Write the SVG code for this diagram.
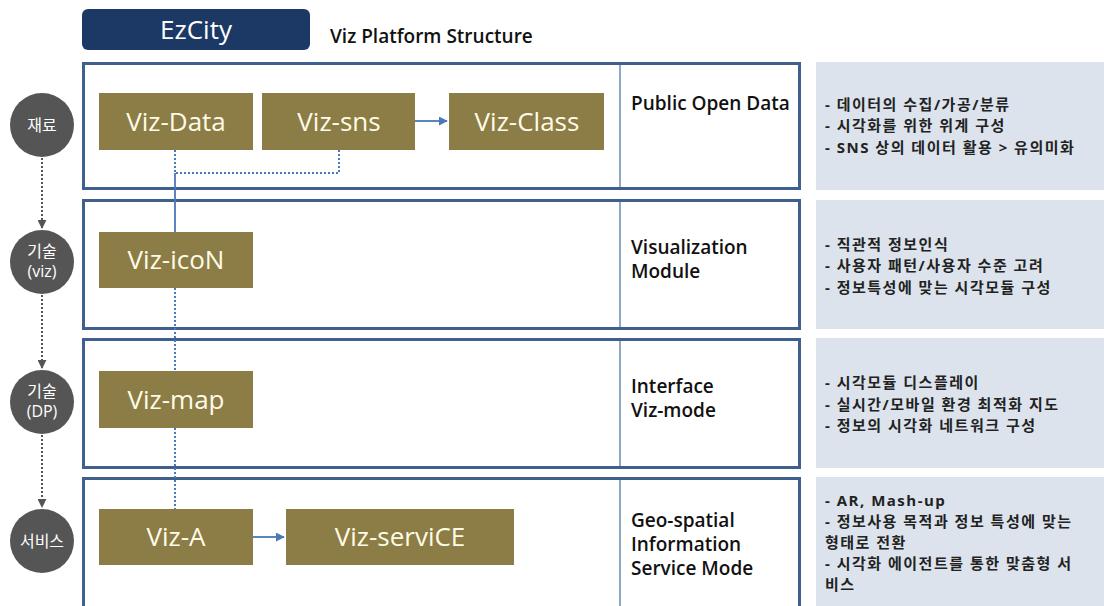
<svg xmlns="http://www.w3.org/2000/svg" width="1104" height="606" viewBox="0 0 1104 606">
  <style>
    .panel { fill: #ffffff; stroke: #3f5f8c; stroke-width: 3; }
    .divider { stroke: #6a8ab5; stroke-width: 1.5; }
    .note { fill: #dce3ec; }
    .mod { fill: #8b7d45; }
    .modtxt { font-family: "Open Sans", "Liberation Sans", sans-serif; font-size: 26px; fill: #fffbe8; text-anchor: middle; }
    .title { font-family: "Open Sans", "Liberation Sans", sans-serif; font-size: 19px; font-weight: 600; fill: #111111; }
    .bullet { font-family: "Open Sans", "Noto Sans CJK KR", sans-serif; font-size: 15px; letter-spacing: 1.5px; font-weight: 700; fill: #222222; }
    .stage { fill: #555555; }
    .stagetxt { font-family: "Open Sans", "Noto Sans CJK KR", sans-serif; font-size: 16px; fill: #ffffff; text-anchor: middle; }
    .link { fill: none; stroke: #4a78b8; stroke-width: 1.8; }
    .dot { fill: none; stroke: #4a78b8; stroke-width: 2; stroke-dasharray: 2 2; }
    .flow { fill: none; stroke: #555555; stroke-width: 2; stroke-dasharray: 2 2; }
  </style>
  <defs>
    <marker id="arrBlue" viewBox="0 0 10 10" refX="9" refY="5" markerWidth="5" markerHeight="5" orient="auto">
      <path d="M0,0 L10,5 L0,10 z" fill="#4a78b8"/>
    </marker>
    <marker id="arrGray" viewBox="0 0 10 10" refX="9" refY="5" markerWidth="4.5" markerHeight="4.5" orient="auto">
      <path d="M0,0 L10,5 L0,10 z" fill="#555555"/>
    </marker>
  </defs>

  <rect width="1104" height="606" fill="#ffffff"/>

  <!-- header -->
  <g id="header">
    <rect x="82" y="9" width="228" height="41" rx="6" fill="#1c3966"/>
    <text x="196" y="39" font-family="Open Sans, Liberation Sans, sans-serif" font-size="26" fill="#ffffff" text-anchor="middle">EzCity</text>
    <text x="330" y="43" font-family="Open Sans, Liberation Sans, sans-serif" font-size="19" font-weight="600" fill="#111111">Viz Platform Structure</text>
  </g>

  <!-- layer panels -->
  <g id="layer-data">
    <rect class="panel" x="83.5" y="63.5" width="716" height="125"/>
    <line class="divider" x1="620" y1="65" x2="620" y2="187"/>
    <text class="title" x="631" y="110">Public Open Data</text>
  </g>
  <g id="layer-viz">
    <rect class="panel" x="83.5" y="200.5" width="716" height="128"/>
    <line class="divider" x1="620" y1="202" x2="620" y2="327"/>
    <text class="title" x="631" y="254">Visualization</text>
    <text class="title" x="631" y="278">Module</text>
  </g>
  <g id="layer-dp">
    <rect class="panel" x="83.5" y="339.5" width="716" height="128"/>
    <line class="divider" x1="620" y1="341" x2="620" y2="466"/>
    <text class="title" x="631" y="393">Interface</text>
    <text class="title" x="631" y="417">Viz-mode</text>
  </g>
  <g id="layer-service">
    <rect class="panel" x="83.5" y="478.5" width="716" height="140"/>
    <line class="divider" x1="620" y1="480" x2="620" y2="606"/>
    <text class="title" x="631" y="527">Geo-spatial</text>
    <text class="title" x="631" y="551">Information</text>
    <text class="title" x="631" y="575">Service Mode</text>
  </g>

  <!-- notes -->
  <g id="note-data">
    <rect class="note" x="816" y="62" width="288" height="128"/>
    <text class="bullet" x="825" y="110">- 데이터의 수집/가공/분류</text>
    <text class="bullet" x="825" y="131">- 시각화를 위한 위계 구성</text>
    <text class="bullet" x="825" y="153">- SNS 상의 데이터 활용 &gt; 유의미화</text>
  </g>
  <g id="note-viz">
    <rect class="note" x="816" y="200" width="288" height="129"/>
    <text class="bullet" x="825" y="250">- 직관적 정보인식</text>
    <text class="bullet" x="825" y="271">- 사용자 패턴/사용자 수준 고려</text>
    <text class="bullet" x="825" y="293">- 정보특성에 맞는 시각모듈 구성</text>
  </g>
  <g id="note-dp">
    <rect class="note" x="816" y="338" width="288" height="130"/>
    <text class="bullet" x="825" y="388">- 시각모듈 디스플레이</text>
    <text class="bullet" x="825" y="410">- 실시간/모바일 환경 최적화 지도</text>
    <text class="bullet" x="825" y="431">- 정보의 시각화 네트워크 구성</text>
  </g>
  <g id="note-service">
    <rect class="note" x="816" y="477" width="288" height="129"/>
    <text class="bullet" x="825" y="506">- AR, Mash-up</text>
    <text class="bullet" x="825" y="527">- 정보사용 목적과 정보 특성에 맞는</text>
    <text class="bullet" x="825" y="548">형태로 전환</text>
    <text class="bullet" x="825" y="569">- 시각화 에이전트를 통한 맞춤형 서</text>
    <text class="bullet" x="825" y="590">비스</text>
  </g>

  <!-- stage markers -->
  <g id="stage-material">
    <circle class="stage" cx="42" cy="125" r="32"/>
    <text class="stagetxt" x="42" y="131">재료</text>
  </g>
  <g id="stage-tech-viz">
    <circle class="stage" cx="42" cy="262" r="32"/>
    <text class="stagetxt" x="42" y="257">기술</text>
    <text class="stagetxt" x="42" y="277">(viz)</text>
  </g>
  <g id="stage-tech-dp">
    <circle class="stage" cx="42" cy="402" r="32"/>
    <text class="stagetxt" x="42" y="397">기술</text>
    <text class="stagetxt" x="42" y="417">(DP)</text>
  </g>
  <g id="stage-service">
    <circle class="stage" cx="42" cy="541" r="32"/>
    <text class="stagetxt" x="42" y="547">서비스</text>
  </g>

  <!-- modules -->
  <g id="viz-data">
    <rect class="mod" x="99" y="93" width="154" height="57"/>
    <text class="modtxt" x="176" y="131">Viz-Data</text>
  </g>
  <g id="viz-sns">
    <rect class="mod" x="262" y="93" width="153" height="57"/>
    <text class="modtxt" x="339" y="131">Viz-sns</text>
  </g>
  <g id="viz-class">
    <rect class="mod" x="449" y="93" width="155" height="57"/>
    <text class="modtxt" x="527" y="131">Viz-Class</text>
  </g>
  <g id="viz-icon">
    <rect class="mod" x="99" y="232" width="154" height="56"/>
    <text class="modtxt" x="176" y="269">Viz-icoN</text>
  </g>
  <g id="viz-map">
    <rect class="mod" x="99" y="371" width="154" height="57"/>
    <text class="modtxt" x="176" y="409">Viz-map</text>
  </g>
  <g id="viz-a">
    <rect class="mod" x="99" y="509" width="154" height="56"/>
    <text class="modtxt" x="176" y="546">Viz-A</text>
  </g>
  <g id="viz-service">
    <rect class="mod" x="286" y="509" width="228" height="56"/>
    <text class="modtxt" x="400" y="546">Viz-serviCE</text>
  </g>

  <!-- connectors -->
  <g id="connectors">
    <line class="link" x1="415" y1="121" x2="447" y2="121" marker-end="url(#arrBlue)"/>
    <line class="link" x1="253" y1="537" x2="284" y2="537" marker-end="url(#arrBlue)"/>
    <path class="dot" d="M175,150 V173 M339,150 V173 H175"/>
    <line class="link" x1="175" y1="173" x2="175" y2="232"/>
    <line class="dot" x1="175" y1="288" x2="175" y2="371"/>
    <line class="dot" x1="175" y1="428" x2="175" y2="509"/>
    <line class="flow" x1="42" y1="158" x2="42" y2="228" marker-end="url(#arrGray)"/>
    <line class="flow" x1="42" y1="295" x2="42" y2="368" marker-end="url(#arrGray)"/>
    <line class="flow" x1="42" y1="435" x2="42" y2="507" marker-end="url(#arrGray)"/>
  </g>
</svg>
